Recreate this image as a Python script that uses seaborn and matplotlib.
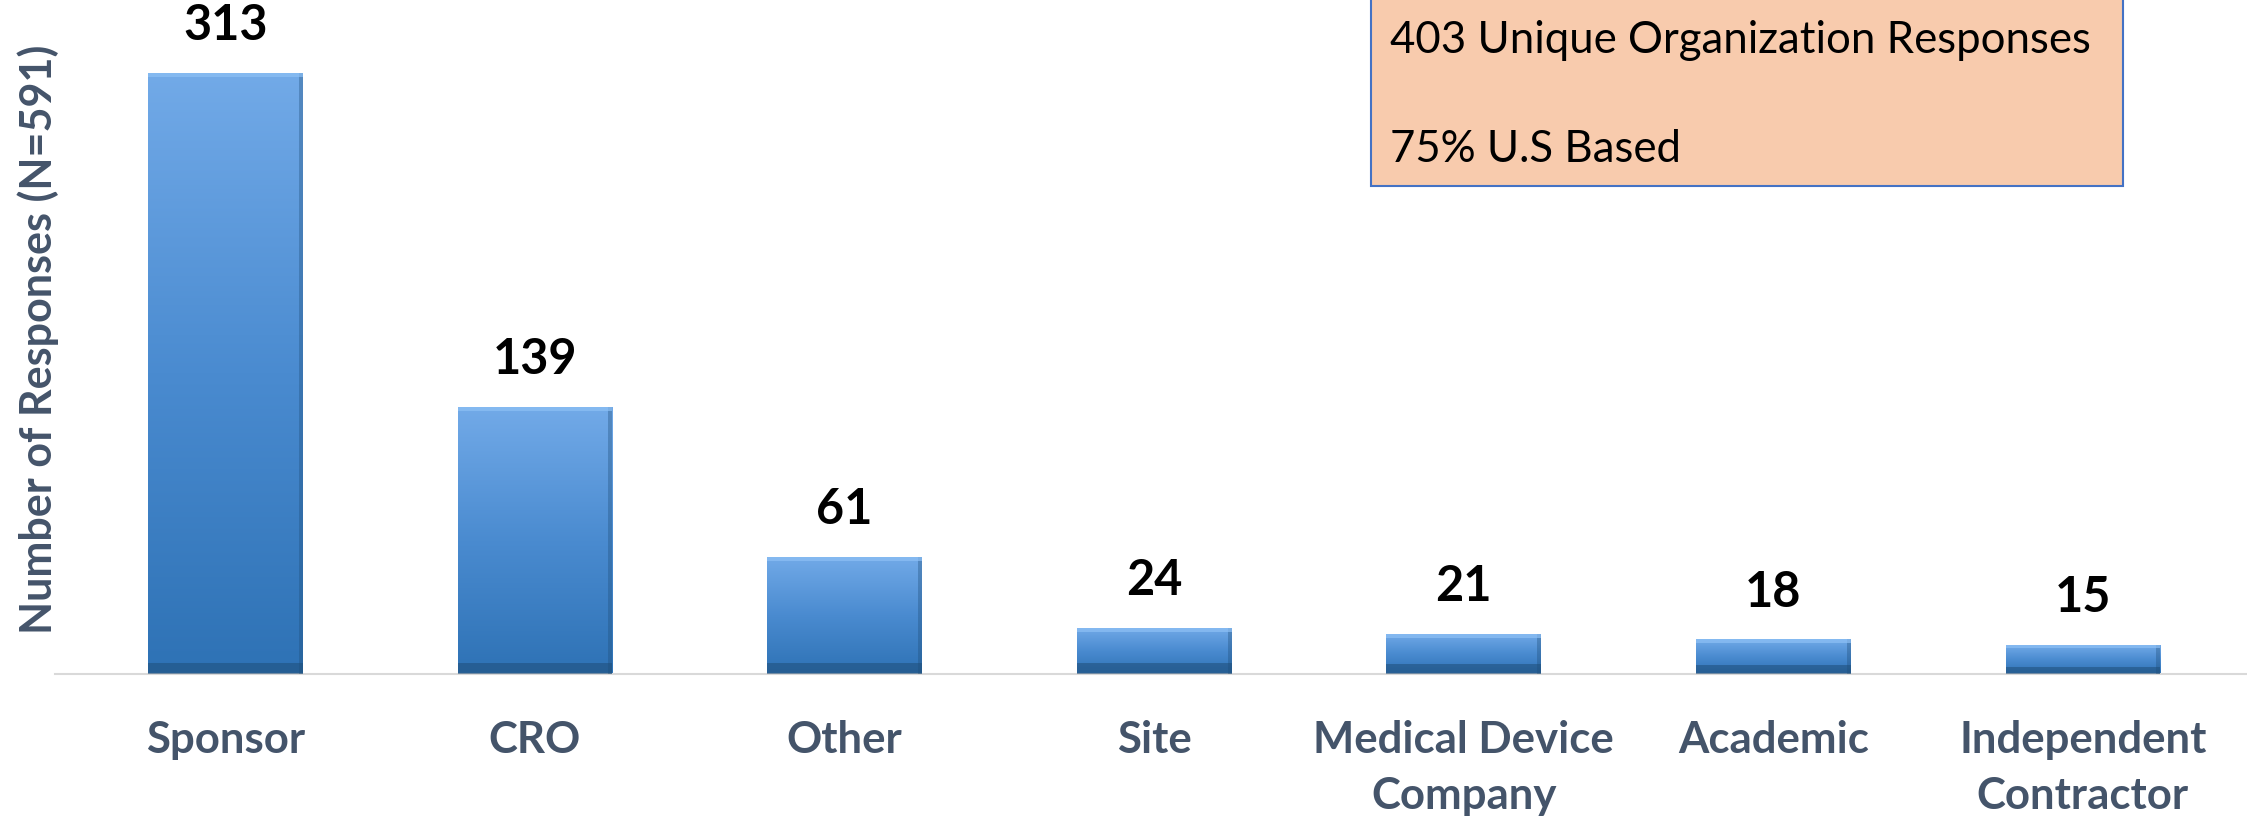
import matplotlib
matplotlib.use("Agg")
import matplotlib.pyplot as plt
import seaborn as sns
import numpy as np
import pandas as pd
from matplotlib.patches import Rectangle
from matplotlib.colors import LinearSegmentedColormap

# data
categories = ["Sponsor", "CRO", "Other", "Site", "Medical Device\nCompany",
              "Academic", "Independent\nContractor"]
responses = [313, 139, 61, 24, 21, 18, 15]
box_lines = ["403 Unique Organization Responses", "75% U.S Based"]
y_label = "Number of Responses (N=591)"

sns.set_theme(style="white")
plt.rcParams['font.family'] = ['Lato', 'DejaVu Sans']

label_color = "#44546A"

fig = plt.figure(figsize=(22.47, 8.17), dpi=100)
ax = fig.add_axes([0.0245, 0.175, 0.9755, 0.825])

df = pd.DataFrame({"category": categories, "responses": responses})
sns.barplot(data=df, x="category", y="responses", width=0.5,
            color="#5B9BD5", ax=ax)

# vertical gradient inside each bar (light top -> darker bottom)
grad_cmap = LinearSegmentedColormap.from_list("bar", ["#2E72B5", "#4A8BD0", "#72AAE8"])
grad = np.linspace(0, 1, 256).reshape(-1, 1)
for patch in ax.patches:
    x0, y0 = patch.get_x(), patch.get_y()
    w, h = patch.get_width(), patch.get_height()
    im = ax.imshow(grad, cmap=grad_cmap, origin="lower", aspect="auto",
                   extent=[x0, x0 + w, y0, y0 + h], zorder=2)
    im.set_clip_path(patch)
    patch.set_facecolor("none")
    patch.set_edgecolor("none")
    # bevel: dark bottom band, darker right edge, light top edge
    bh = min(6.0, h * 0.25)
    ax.add_patch(Rectangle((x0, y0), w, bh, facecolor="#1F4E79",
                           alpha=0.55, edgecolor="none", zorder=3))
    ax.add_patch(Rectangle((x0 + w * 0.975, y0), w * 0.025, h, facecolor="#1F4E79",
                           alpha=0.35, edgecolor="none", zorder=3))
    ax.add_patch(Rectangle((x0, y0 + h - min(2.0, h * 0.1)), w, min(2.0, h * 0.1),
                           facecolor="#8DC0F5", alpha=0.7, edgecolor="none", zorder=3))

# value labels above bars
for i, v in enumerate(responses):
    ax.annotate(f"{v}", xy=(i, v), xytext=(0, 34), textcoords="offset points",
                ha="center", va="center", fontsize=35, fontweight="bold",
                color="black")

ax.set_xlim(-0.55, 6.53)
ax.set_ylim(0, 351)
ax.set_yticks([])
ax.set_xlabel("")
ax.set_ylabel(y_label, fontsize=31, fontweight="bold", color=label_color)
ax.yaxis.set_label_coords(0.002, 0.496)
ax.tick_params(axis="x", length=0, pad=33)
for lbl in ax.get_xticklabels():
    lbl.set_fontsize(31.5)
    lbl.set_fontweight("bold")
    lbl.set_color(label_color)
    lbl.set_linespacing(1.5)

for side in ["top", "right", "left"]:
    ax.spines[side].set_visible(False)
ax.spines["bottom"].set_color("#D9D9D9")
ax.spines["bottom"].set_linewidth(1.5)

# info box in the top right
fig.patches.append(Rectangle((0.610, 0.772), 0.335, 0.25, transform=fig.transFigure,
                             facecolor="#F8CBAD", edgecolor="#4472C4",
                             linewidth=1.5, zorder=5))
fig.text(0.6186, 0.950, box_lines[0], fontsize=31.5, va="center", ha="left",
         color="black", zorder=6)
fig.text(0.6186, 0.817, box_lines[1], fontsize=31.5, va="center", ha="left",
         color="black", zorder=6)

fig.savefig("out.png", dpi=100)
